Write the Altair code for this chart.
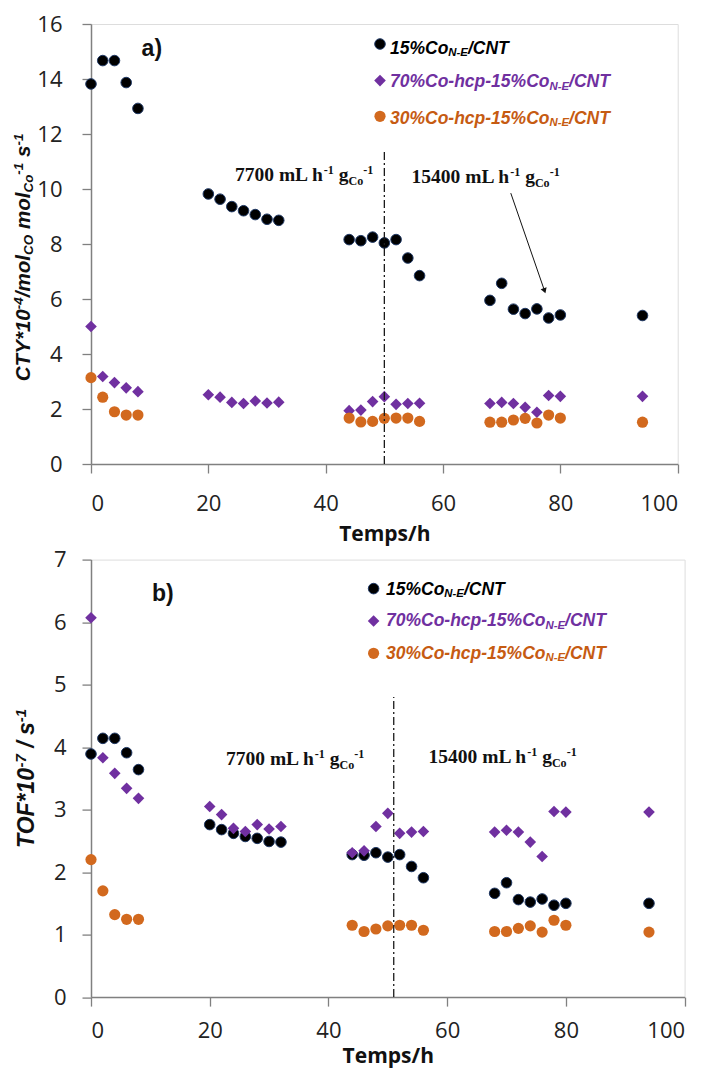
import altair as alt
import pandas as pd

# ---------------- data ----------------
times_all = [0, 2, 4, 6, 8, 20, 22, 24, 26, 28, 30, 32, 44, 46, 48, 50, 52, 54, 56,
             68, 70, 72, 74, 76, 78, 80, 94]
times_orange = [0, 2, 4, 6, 8, 44, 46, 48, 50, 52, 54, 56, 68, 70, 72, 74, 76, 78, 80, 94]

cty_black = [13.82, 14.67, 14.67, 13.87, 12.93, 9.82, 9.63, 9.36, 9.21, 9.07, 8.90, 8.86,
             8.16, 8.12, 8.25, 8.04, 8.16, 7.49, 6.85, 5.95, 6.57, 5.63, 5.47, 5.64, 5.31, 5.42, 5.40]
cty_purple = [5.00, 3.18, 2.96, 2.77, 2.63, 2.52, 2.43, 2.24, 2.20, 2.29, 2.22, 2.25,
              1.94, 1.96, 2.27, 2.45, 2.17, 2.20, 2.21, 2.20, 2.24, 2.20, 2.06, 1.88, 2.49, 2.46, 2.46]
cty_orange = [3.14, 2.43, 1.90, 1.78, 1.78, 1.67, 1.53, 1.55, 1.66, 1.67, 1.67, 1.55,
              1.52, 1.52, 1.60, 1.66, 1.49, 1.78, 1.67, 1.52]

tof_black = [3.89, 4.14, 4.14, 3.91, 3.64, 2.76, 2.68, 2.62, 2.57, 2.54, 2.49, 2.48,
             2.28, 2.27, 2.31, 2.24, 2.28, 2.09, 1.91, 1.66, 1.83, 1.56, 1.52, 1.57, 1.47, 1.50, 1.50]
tof_purple = [6.07, 3.83, 3.58, 3.34, 3.18, 3.05, 2.92, 2.70, 2.65, 2.76, 2.69, 2.73,
              2.31, 2.34, 2.73, 2.94, 2.62, 2.64, 2.65, 2.64, 2.67, 2.64, 2.48, 2.25, 2.97, 2.96, 2.96]
tof_orange = [2.20, 1.70, 1.32, 1.245, 1.245, 1.15, 1.05, 1.09, 1.14, 1.15, 1.15, 1.07,
              1.05, 1.05, 1.10, 1.14, 1.04, 1.23, 1.15, 1.04]

x_ticks = [0, 20, 40, 60, 80, 100]
y_ticks_a = [0, 2, 4, 6, 8, 10, 12, 14, 16]
y_ticks_b = [0, 1, 2, 3, 4, 5, 6, 7]

change_a = 50      # GHSV change line, panel a
change_a_top = 11.4
change_b = 51
change_b_top = 4.8
arrow_start = (71.55, 9.85)
arrow_end = (77.3, 6.3)

BLACK = "#000000"
PURPLE = "#7030A0"
ORANGE = "#D2691E"
ORANGE_TXT = "#C65B12"
AXIS_GREY = "#808080"

SANS = "Liberation Sans"
SERIF = "Liberation Serif"
TICKF = "Open Sans"

ARIAL_B = {' ': 278, '%': 889, '*': 389, '-': 333, '/': 278, 'C': 722, 'E': 667, 'N': 722,
           'O': 778, 'T': 611, 'Y': 667, 'F': 611, 'a': 556, 'c': 556, 'h': 611, 'l': 278,
           'm': 889, 'o': 611, 'p': 611, 's': 556, ')': 333, 'b': 611}
TIMES_B = {' ': 250, '-': 333, 'm': 833, 'L': 667, 'h': 556, 'g': 500, 'C': 722, 'o': 500}

ONE = pd.DataFrame({"k": [0]})


def width(txt, table, digit):
    return sum(digit if c.isdigit() else table.get(c, 556) for c in txt)


def seg(txt, px, py, size, font, color, angle=0, style="italic", weight="bold"):
    kw = dict(text=txt, font=font, fontSize=size, fontWeight=weight, color=color,
              align="left", baseline="alphabetic", angle=angle)
    if style:
        kw["fontStyle"] = style
    return alt.Chart(ONE).mark_text(**kw).encode(x=alt.value(px), y=alt.value(py))


def rich(segments, x0, y0, size, font, color, horizontal=True, style="italic",
         scale=0.65, raise_=0.33, drop=0.14):
    table, digit = (ARIAL_B, 556) if font == SANS else (TIMES_B, 500)
    out = []
    adv = 0.0
    for txt, kind in segments:
        s = size if kind == "n" else size * scale
        # leading spaces collapse in SVG: advance for them, then draw the rest
        lead = len(txt) - len(txt.lstrip(" "))
        if lead:
            adv += width(" " * lead, table, digit) * s / 1000.0
            txt = txt.lstrip(" ")
        shift = 0.0
        if kind == "sup":
            shift = -raise_ * size
        elif kind == "sub":
            shift = drop * size
        if horizontal:
            out.append(seg(txt, x0 + adv, y0 + shift, s, font, color, 0, style))
        else:
            out.append(seg(txt, x0 + shift, y0 - adv, s, font, color, 270, style))
        adv += width(txt, table, digit) * s / 1000.0
    return out


def marker(kind):
    if kind == "black":
        return dict(shape="circle", filled=True, fill=BLACK, stroke="#1F3864",
                    strokeWidth=1, size=112, opacity=1)
    if kind == "purple":
        return dict(shape="diamond", filled=True, fill=PURPLE, strokeWidth=0, size=135, opacity=1)
    return dict(shape="circle", filled=True, fill=ORANGE, strokeWidth=0, size=125, opacity=1)


def panel(black, purple, orange, ymax, yticks, W, H, change_t, change_top, lay):
    xs = alt.Scale(domain=[0, 100], nice=False, zero=False)
    ys = alt.Scale(domain=[0, ymax], nice=False)
    xaxis = alt.Axis(values=x_ticks, grid=False, tickSize=9, tickWidth=1.3, tickColor=AXIS_GREY,
                     domainColor=AXIS_GREY, domainWidth=1.5, labelFont=TICKF, labelFontSize=22,
                     labelColor="#222222", labelPadding=lay["xlp"], title="Temps/h",
                     titleFont=TICKF, titleFontSize=21, titleFontWeight="bold", titleColor="#111111",
                     titlePadding=lay["xtp"], format="d")
    yaxis = alt.Axis(values=yticks, grid=False, tickSize=9, tickWidth=1.3, tickColor=AXIS_GREY,
                     domainColor=AXIS_GREY, domainWidth=1.5, labelFont=TICKF, labelFontSize=22,
                     labelColor="#222222", labelPadding=lay["ylp"], title=None, format="d")
    tb, vb = black
    tp, vp = purple
    to, vo = orange
    base_b = alt.Chart(pd.DataFrame({"t": tb, "v": vb})).mark_point(**marker("black")).encode(
        x=alt.X("t:Q", scale=xs, axis=xaxis), y=alt.Y("v:Q", scale=ys, axis=yaxis))
    base_p = alt.Chart(pd.DataFrame({"t": tp, "v": vp})).mark_point(**marker("purple")).encode(
        x=alt.X("t:Q", scale=xs), y=alt.Y("v:Q", scale=ys))
    base_o = alt.Chart(pd.DataFrame({"t": to, "v": vo})).mark_point(**marker("orange")).encode(
        x=alt.X("t:Q", scale=xs), y=alt.Y("v:Q", scale=ys))
    vline = alt.Chart(pd.DataFrame({"t": [change_t], "y0": [0], "y1": [change_top]})).mark_rule(
        color="#1a1a1a", strokeWidth=1.3, strokeDash=[8, 3, 2, 3]
    ).encode(x=alt.X("t:Q", scale=xs), y=alt.Y("y0:Q", scale=ys), y2="y1:Q")
    layers = [base_b, base_p, base_o, vline]

    # legend
    names = [
        ([("15%Co", "n"), ("N-E", "sub"), ("/CNT", "n")], BLACK, "black"),
        ([("70%Co-hcp-15%Co", "n"), ("N-E", "sub"), ("/CNT", "n")], PURPLE, "purple"),
        ([("30%Co-hcp-15%Co", "n"), ("N-E", "sub"), ("/CNT", "n")], ORANGE_TXT, "orange"),
    ]
    for i, (segs, col, kind) in enumerate(names):
        layers.append(alt.Chart(ONE).mark_point(**marker(kind)).encode(
            x=alt.value(lay["lmx"]), y=alt.value(lay["lmy"][i])))
        layers += rich(segs, lay["ltx"], lay["lty"][i], 17.5, SANS, col)

    # annotations
    ann = [("7700 mL h", "n"), ("-1", "sup"), (" g", "n"), ("Co", "sub"), ("-1", "sup")]
    ann2 = [("15400 mL h", "n"), ("-1", "sup"), (" g", "n"), ("Co", "sub"), ("-1", "sup")]
    layers += rich(ann, lay["a1"][0], lay["a1"][1], 19.5, SERIF, "#111111", style=None,
                   scale=0.62, raise_=0.36, drop=0.2)
    layers += rich(ann2, lay["a2"][0], lay["a2"][1], 19.5, SERIF, "#111111", style=None,
                   scale=0.62, raise_=0.36, drop=0.2)

    # panel label
    layers.append(seg(lay["label"], lay["lab"][0], lay["lab"][1], 23, SANS, "#111111", 0, None))

    # y title
    layers += rich(lay["ytitle"], lay["yt"][0], lay["yt"][1], lay["yts"], SANS, "#111111",
                   horizontal=False)
    return alt.layer(*layers).properties(width=W, height=H)


lay_a = dict(xlp=20, xtp=9, ylp=20,
             lmx=289, lmy=[20, 56.6, 92.3], ltx=299, lty=[30, 63.3, 100],
             a1=(144, 157.3), a2=(320.6, 159), label="a)", lab=(50.6, 32.3),
             ytitle=[("CTY*10", "n"), ("-4", "sup"), ("/mol", "n"), ("CO", "sub"), (" mol", "n"),
                     ("Co", "sub"), ("-1", "sup"), (" s", "n"), ("-1", "sup")],
             yt=(-61, 357.3), yts=20.6)
lay_b = dict(xlp=14, xtp=4, ylp=16,
             lmx=282.6, lmy=[29, 61.4, 93.7], ltx=295, lty=[35, 66.7, 99.4],
             a1=(135, 205), a2=(337.6, 203.4), label="b)", lab=(61, 41.7),
             ytitle=[("TOF*10", "n"), ("-7", "sup"), (" / s", "n"), ("-1", "sup")],
             yt=(-57, 288.4), yts=23)

pa = panel((times_all, cty_black), (times_all, cty_purple), (times_orange, cty_orange),
           16, y_ticks_a, 586.7, 440, change_a, change_a_top, lay_a)

# arrow in panel a
xs_a = alt.Scale(domain=[0, 100], nice=False, zero=False)
ys_a = alt.Scale(domain=[0, 16], nice=False)
arrow_df = pd.DataFrame({"x0": [arrow_start[0]], "y0": [arrow_start[1]],
                         "x1": [arrow_end[0]], "y1": [arrow_end[1]]})
arrow_line = alt.Chart(arrow_df).mark_rule(color="#111111", strokeWidth=1).encode(
    x=alt.X("x0:Q", scale=xs_a), y=alt.Y("y0:Q", scale=ys_a), x2="x1:Q", y2="y1:Q")
arrow_head = alt.Chart(arrow_df).mark_point(shape="triangle-up", filled=True, fill="#111111",
                                            strokeWidth=0, size=40, angle=161, opacity=1).encode(
    x=alt.X("x1:Q", scale=xs_a), y=alt.Y("y1:Q", scale=ys_a))
pa = alt.layer(pa, arrow_line, arrow_head)

pb = panel((times_all, tof_black), (times_all, tof_purple), (times_orange, tof_orange),
           7, y_ticks_b, 593.6, 437.5, change_b, change_b_top, lay_b)

chart = alt.vconcat(pa, pb, spacing=95.6, bounds="flush").properties(
    padding={"left": 3, "top": 4, "right": 5, "bottom": 5}
).configure_view(stroke=AXIS_GREY, strokeWidth=1.3).configure(background="white")

chart.save("out.html", embed_options={"renderer": "svg", "actions": False})
